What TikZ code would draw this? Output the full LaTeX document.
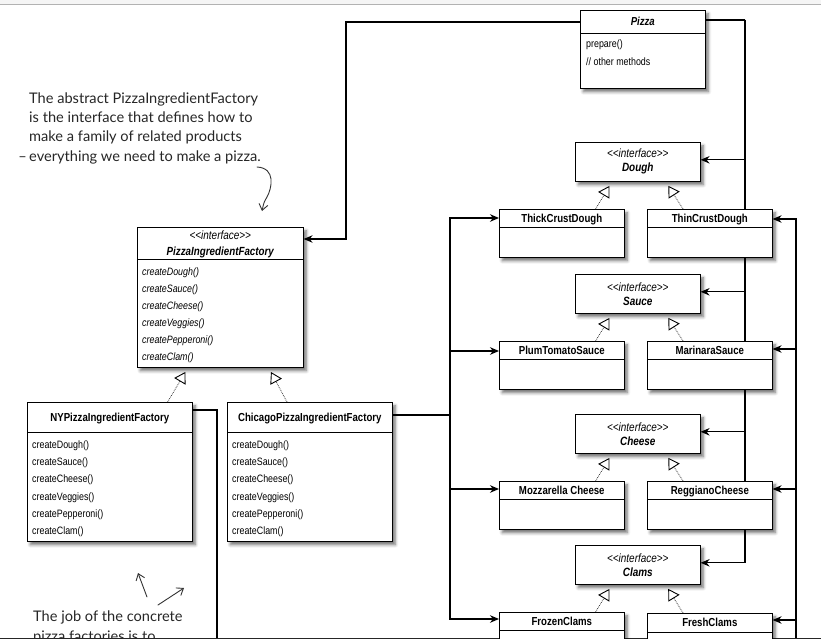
\documentclass[tikz,border=0pt]{standalone}
\usepackage{fontspec}
\newfontfamily\umlfont{Liberation Sans}[FakeStretch=0.83]
\newfontfamily\handfont{Lato}
\usetikzlibrary{arrows.meta,shadows.blur}

\pgfdeclarelayer{wires}
\pgfsetlayers{wires,main}

\begin{document}
\begin{tikzpicture}[x=1pt,y=-1pt,
  umlbox/.style={draw, line width=0.6pt, fill=white, anchor=north west, inner sep=0pt,
    blur shadow={shadow xshift=3pt, shadow yshift=-3.5pt, shadow blur radius=3pt, shadow opacity=55}},
  classbox/.style={umlbox, minimum width=125pt, minimum height=48pt},
  factorybox/.style={umlbox, minimum width=165pt, minimum height=139pt},
  iface/.style={umlbox, minimum width=125pt, minimum height=39pt, align=center,
    font=\umlfont\fontsize{12}{14}\selectfont},
  title/.style={anchor=base, inner sep=0pt, font=\umlfont\bfseries\fontsize{11.6}{13}\selectfont},
  methods/.style={anchor=north west, inner sep=0pt, align=left, font=\umlfont\fontsize{10.7}{17.2}\selectfont},
  divider/.style={line width=0.6pt},
  wire/.style={line width=1.2pt},
  assoc/.style={wire, -{Stealth[length=9pt,width=7.5pt]}},
  realizes/.style={densely dotted, line width=0.8pt, black!75,
    -{Triangle[open,length=11pt,width=13pt,color=black,line width=0.9pt]}, shorten >=5pt},
  note/.style={anchor=base west, inner sep=0pt, align=left, black!85, font=\handfont\fontsize{14.6}{19.2}\selectfont},
  scribble/.style={line width=0.9pt, black!80, line cap=round, line join=round}
]
\useasboundingbox (0,0) rectangle (821,639);
\clip (0,0) rectangle (821,639);

% page edges
\fill[black!4] (0,0) rectangle (821,5);
\draw[black!30, line width=1pt] (0,5) -- (821,5);
\draw[black!85, line width=2.5pt] (0,639) -- (821,639);

% Pizza
\node[umlbox, minimum width=125pt, minimum height=78pt] (pizza) at (580,10) {};
\node[title, font=\umlfont\bfseries\itshape\fontsize{11.6}{13}\selectfont] at ([yshift=-15.5pt]pizza.north) {Pizza};
\draw[divider] ([yshift=-23pt]pizza.north west) -- ([yshift=-23pt]pizza.north east);
\node[methods] at ([xshift=6pt,yshift=-30pt]pizza.north west) {prepare()\\// other methods};

% abstract factory
\node[umlbox, minimum width=166pt, minimum height=140pt] (pif) at (137,227) {};
\node[title, font=\umlfont\itshape\fontsize{12}{13}\selectfont] at ([yshift=-12pt]pif.north) {<\kern0pt<interface>\kern0pt>};
\node[title, font=\umlfont\bfseries\itshape\fontsize{11.8}{13}\selectfont] at ([yshift=-28pt]pif.north) {PizzaIngredientFactory};
\draw[divider] ([yshift=-32pt]pif.north west) -- ([yshift=-32pt]pif.north east);
\node[methods, font=\umlfont\itshape\fontsize{10.7}{17}\selectfont] at ([xshift=5pt,yshift=-40.5pt]pif.north west)
  {createDough()\\createSauce()\\createCheese()\\createVeggies()\\createPepperoni()\\createClam()};

% concrete factories
\node[factorybox] (ny) at (27,402) {};
\node[title] at ([yshift=-19pt]ny.north) {NYPizzaIngredientFactory};
\draw[divider] ([yshift=-30pt]ny.north west) -- ([yshift=-30pt]ny.north east);
\node[methods] at ([xshift=5pt,yshift=-38.5pt]ny.north west)
  {createDough()\\createSauce()\\createCheese()\\createVeggies()\\createPepperoni()\\createClam()};

\node[factorybox] (chicago) at (227,402) {};
\node[title] at ([yshift=-19pt]chicago.north) {ChicagoPizzaIngredientFactory};
\draw[divider] ([yshift=-30pt]chicago.north west) -- ([yshift=-30pt]chicago.north east);
\node[methods] at ([xshift=5pt,yshift=-38.5pt]chicago.north west)
  {createDough()\\createSauce()\\createCheese()\\createVeggies()\\createPepperoni()\\createClam()};

% ingredient interfaces
\node[iface] (dough) at (575,142) {\textit{<\kern0pt<interface>\kern0pt>}\\\textbf{\textit{Dough}}};
\node[iface] (sauce) at (575,274) {\textit{<\kern0pt<interface>\kern0pt>}\\\textbf{\textit{Sauce}}};
\node[iface] (cheese) at (575,414) {\textit{<\kern0pt<interface>\kern0pt>}\\\textbf{\textit{Cheese}}};
\node[iface] (clams) at (575,545) {\textit{<\kern0pt<interface>\kern0pt>}\\\textbf{\textit{Clams}}};

% ingredient classes
\node[classbox] (thick) at (499,209) {};
\node[title] at ([yshift=-13.5pt]thick.north) {ThickCrustDough};
\draw[divider] ([yshift=-18pt]thick.north west) -- ([yshift=-18pt]thick.north east);
\node[classbox] (thin) at (647,209) {};
\node[title] at ([yshift=-13.5pt]thin.north) {ThinCrustDough};
\draw[divider] ([yshift=-18pt]thin.north west) -- ([yshift=-18pt]thin.north east);

\node[classbox] (plum) at (499,341) {};
\node[title] at ([yshift=-13.5pt]plum.north) {PlumTomatoSauce};
\draw[divider] ([yshift=-18pt]plum.north west) -- ([yshift=-18pt]plum.north east);
\node[classbox] (marinara) at (647,341) {};
\node[title] at ([yshift=-13.5pt]marinara.north) {MarinaraSauce};
\draw[divider] ([yshift=-18pt]marinara.north west) -- ([yshift=-18pt]marinara.north east);

\node[classbox] (mozz) at (499,481) {};
\node[title] at ([yshift=-13.5pt]mozz.north) {Mozzarella Cheese};
\draw[divider] ([yshift=-18pt]mozz.north west) -- ([yshift=-18pt]mozz.north east);
\node[classbox] (reggiano) at (647,481) {};
\node[title] at ([yshift=-13.5pt]reggiano.north) {ReggianoCheese};
\draw[divider] ([yshift=-18pt]reggiano.north west) -- ([yshift=-18pt]reggiano.north east);

\node[classbox] (frozen) at (499,612) {};
\node[title] at ([yshift=-13.5pt]frozen.north) {FrozenClams};
\draw[divider] ([yshift=-18pt]frozen.north west) -- ([yshift=-18pt]frozen.north east);
\node[classbox] (fresh) at (647,613) {};
\node[title] at ([yshift=-13.5pt]fresh.north) {FreshClams};
\draw[divider] ([yshift=-19pt]fresh.north west) -- ([yshift=-19pt]fresh.north east);

% implements
\draw[realizes] ([xshift=-25pt]ny.north east) -- ([xshift=51pt]pif.south west);
\draw[realizes] ([xshift=60pt]chicago.north west) -- ([xshift=-35pt]pif.south east);
\draw[realizes] ([xshift=-29pt]thick.north east) -- ([xshift=37pt]dough.south west);
\draw[realizes] ([xshift=36pt]thin.north west) -- ([xshift=-35pt]dough.south east);
\draw[realizes] ([xshift=-29pt]plum.north east) -- ([xshift=37pt]sauce.south west);
\draw[realizes] ([xshift=36pt]marinara.north west) -- ([xshift=-35pt]sauce.south east);
\draw[realizes] ([xshift=-29pt]mozz.north east) -- ([xshift=37pt]cheese.south west);
\draw[realizes] ([xshift=36pt]reggiano.north west) -- ([xshift=-35pt]cheese.south east);
\draw[realizes] ([xshift=-29pt]frozen.north east) -- ([xshift=37pt]clams.south west);
\draw[realizes] ([xshift=36pt]fresh.north west) -- ([xshift=-35pt]clams.south east);

% uses
\begin{pgfonlayer}{wires}
  \clip (0,0) rectangle (821,639);
  \coordinate (pifbend) at (346,22);
  \coordinate (rtrunk) at (745,20);
  \coordinate (lbus) at (450,415);
  \coordinate (nybus) at (217,670);
  \coordinate (rbus) at (796,670);

  \draw[assoc] (pizza.west |- pifbend) -- (pifbend) |- ([yshift=-12pt]pif.north east);

  \draw[wire] (pizza.east |- rtrunk) -- (rtrunk);
  \draw[assoc] (rtrunk) |- ([yshift=2pt]dough.east);
  \draw[assoc] (rtrunk) |- ([yshift=2pt]sauce.east);
  \draw[assoc] (rtrunk) |- ([yshift=2pt]cheese.east);
  \draw[assoc] (rtrunk) |- ([yshift=2pt]clams.east);

  \draw[wire] (chicago.east |- lbus) -- (lbus);
  \draw[assoc] (lbus) |- ([yshift=-9pt]thick.north west);
  \draw[assoc] (lbus) |- ([yshift=-10pt]plum.north west);
  \draw[assoc] (lbus) |- ([yshift=-8pt]mozz.north west);
  \draw[assoc] (lbus) |- ([yshift=-7pt]frozen.north west);

  \draw[wire] ([yshift=-8pt]ny.north east) -| (nybus) -- (rbus);
  \draw[assoc] (rbus) |- ([yshift=-10pt]thin.north east);
  \draw[assoc] (rbus) |- ([yshift=-8pt]marinara.north east);
  \draw[assoc] (rbus) |- ([yshift=-8pt]reggiano.north east);
  \draw[assoc] (rbus) |- ([yshift=-7pt]fresh.north east);
\end{pgfonlayer}

% handwritten notes (base = last line)
\node[note] (absnote) at (29,161) {The abstract PizzaIngredientFactory\\is the interface that defines how to\\make a family of related products\\\llap{–\,}everything we need to make a pizza.};
\coordinate (abstip) at (262,211);
\draw[scribble, -{Straight Barb[length=6pt,width=9pt]}] (257,167) .. controls (276,168) and (272,188) .. (267,197) .. controls (264,202) .. (abstip);

\node[note] (jobnote) at (33,641) {The job of the concrete\\pizza factories is to};
\coordinate (upA) at (138,573);
\coordinate (upB) at (184,588);
\draw[scribble, -{Straight Barb[length=6pt,width=9pt]}] (147,597) -- (upA);
\draw[scribble, -{Straight Barb[length=6pt,width=9pt]}] (158,605) -- (upB);

\end{tikzpicture}
\end{document}
